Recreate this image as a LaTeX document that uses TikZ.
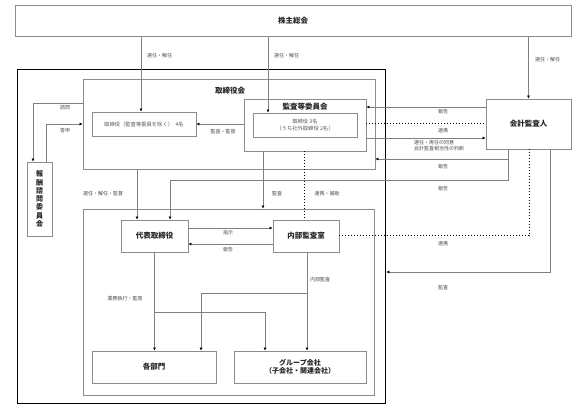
\documentclass[tikz,border=0pt]{standalone}
\usepackage{fontspec}
\setmainfont{Noto Sans CJK JP}
\usetikzlibrary{arrows.meta}
\begin{document}
\begin{tikzpicture}[x=1pt,y=-1pt,
  box/.style={draw=black!45, line width=0.7pt, fill=white, inner sep=0pt},
  bigbox/.style={draw=black, line width=1.6pt, inner sep=0pt},
  ln/.style={draw=black!50, line width=0.6pt},
  arr/.style={ln, -{Latex[length=3pt,width=3pt,black]}},
  dot/.style={draw=black, line width=1pt, dotted},
  lbl/.style={font=\fontsize{5}{6}\selectfont, text=black!70, inner sep=0pt},
  ttl/.style={font=\fontsize{7.5}{9}\selectfont\bfseries, text=black!85},
  itx/.style={font=\fontsize{5.3}{6.4}\selectfont, text=black!65},
]
\useasboundingbox (0,0) rectangle (587,417);

% boxes
\node[box, minimum width=556pt, minimum height=31pt, ttl] (soukai) at (293,21) {株主総会};
\node[bigbox, minimum width=368pt, minimum height=334pt] (kaisha) at (201.5,236.5) {};
\node[box, minimum width=292pt, minimum height=90pt] (torikai) at (229,124) {};
\node[ttl] (torikaiT) at (230,91) {取締役会};
\node[box, minimum width=104pt, minimum height=24pt, itx] (tori4) at (144,124) {取締役（監査等委員を除く）\ \ 4名};
\node[box, minimum width=122pt, minimum height=52pt] (kansa) at (305,125) {};
\node[ttl] (kansaT) at (305,107) {監査等委員会};
\node[box, minimum width=104pt, minimum height=24pt, itx, align=center] (kansain) at (305,125) {取締役 3名\\（うち社外取締役 2名）};
\node[box, minimum width=25pt, minimum height=74pt, ttl, align=center, font=\fontsize{7}{8.3}\selectfont\bfseries] (houshu) at (39.5,199) {報\\酬\\諮\\問\\委\\員\\会};
\node[box, minimum width=85pt, minimum height=50pt, ttl] (kaikei) at (528.5,124) {会計監査人};
\node[box, minimum width=291pt, minimum height=186pt] (shikkou) at (228.5,302) {};
\node[box, minimum width=67pt, minimum height=32pt, ttl] (daihyo) at (154.5,236) {代表取締役};
\node[box, minimum width=66pt, minimum height=32pt, ttl] (naibu) at (306,236) {内部監査室};
\node[box, minimum width=124pt, minimum height=32pt, ttl] (kakubu) at (154,367) {各部門};
\node[box, minimum width=132pt, minimum height=32pt, ttl, align=center, font=\fontsize{7}{8.5}\selectfont\bfseries] (group) at (300,367) {グループ会社\\（子会社・関連会社）};

% helper coordinates
\coordinate (xa) at (141,0);
\coordinate (xb) at (268,0);
\coordinate (sh) at (33,103);
\coordinate (tc) at (46,124);
\coordinate (r1) at (0,107);
\coordinate (r3) at (0,138);
\coordinate (r4) at (0,159);
\coordinate (r5) at (0,180);
\coordinate (r6) at (0,272);
\coordinate (k1) at (508,0);
\coordinate (kd) at (529,0);
\coordinate (ks) at (550,0);
\coordinate (xd1) at (137,0);
\coordinate (xd2) at (170,0);
\coordinate (xk) at (263,0);
\coordinate (xn) at (304,0);
\coordinate (y1) at (0,228);
\coordinate (y2) at (0,244);
\coordinate (b1) at (0,312);
\coordinate (b2) at (0,293);
\coordinate (x265) at (265,0);
\coordinate (x201) at (201,0);
\coordinate (x307) at (307,0);

% connectors
\draw[arr] (soukai.south -| xa) -- (tori4.north -| xa);
\draw[arr] (soukai.south -| xb) -- (kansain.north -| xb);
\draw[arr] (soukai.south -| kaikei.north) -- (kaikei.north);
\draw[arr] (torikai.west |- sh) -- (sh) -- (houshu.north -| sh);
\draw[arr] (houshu.north -| tc) -- (tc) -- (torikai.west |- tc);
\draw[arr] (kansa.west |- tori4.east) -- (tori4.east);
\draw[arr] (kaikei.west |- r1) -- (kansa.east |- r1);
\draw[dot] (kansa.east |- kaikei.west) -- (kaikei.west);
\draw[arr] (kansa.east |- r3) -- (kaikei.west |- r3);
\draw[arr] (kaikei.south -| k1) |- (torikai.east |- r4);
\draw[arr] (kaikei.south -| k1) |- (xd2 |- r5) -- (daihyo.north -| xd2);
\draw[arr] (torikai.south -| xd1) -- (daihyo.north -| xd1);
\draw[arr] (kansa.south -| xk) -- (shikkou.north -| xk);
\draw[dot] (kansa.south -| xn) -- (naibu.north -| xn);
\draw[arr] (daihyo.east |- y1) -- (naibu.west |- y1);
\draw[arr] (naibu.west |- y2) -- (daihyo.east |- y2);
\draw[dot] (naibu.east) -- (naibu.east -| kd) -- (kaikei.south -| kd);
\draw[arr] (kaikei.south -| ks) |- (kaisha.east |- r6);
\draw[arr] (daihyo.south) -- (kakubu.north -| daihyo.south);
\draw[arr] (daihyo.south |- b1) -| (x265 |- group.north);
\draw[arr] (naibu.south -| x307) -- (group.north -| x307);
\draw[arr] (naibu.south -| x307) |- (x201 |- b2) -- (x201 |- kakubu.north);

% labels
\node[lbl, anchor=west] (l1) at (147,56) {選任・解任};
\node[lbl, anchor=west] (l2) at (274,56) {選任・解任};
\node[lbl, anchor=west] (l3) at (535,60) {選任・解任};
\node[lbl] (l4) at (65,108) {諮問};
\node[lbl] (l5) at (65,131) {答申};
\node[lbl] (l6) at (223,132) {監査・監督};
\node[lbl] (l7) at (443,112) {報告};
\node[lbl] (l8) at (443,131) {連携};
\node[lbl, anchor=north west, align=left] (l9) at (414,140) {選任・再任の同意\\会計監査相当性の判断};
\node[lbl] (l10) at (443,167) {報告};
\node[lbl] (l11) at (443,189) {報告};
\node[lbl] (l12) at (443,244) {連携};
\node[lbl] (l13) at (443,288) {監査};
\node[lbl, anchor=west] (l14) at (83,194) {選任・解任・監督};
\node[lbl] (l15) at (277,194) {監査};
\node[lbl] (l16) at (327,194) {連携・補助};
\node[lbl] (l17) at (228,233) {指示};
\node[lbl] (l18) at (228,250) {報告};
\node[lbl] (l19) at (320,280) {内部監査};
\node[lbl] (l20) at (125,299) {業務執行・監督};
\end{tikzpicture}
\end{document}
